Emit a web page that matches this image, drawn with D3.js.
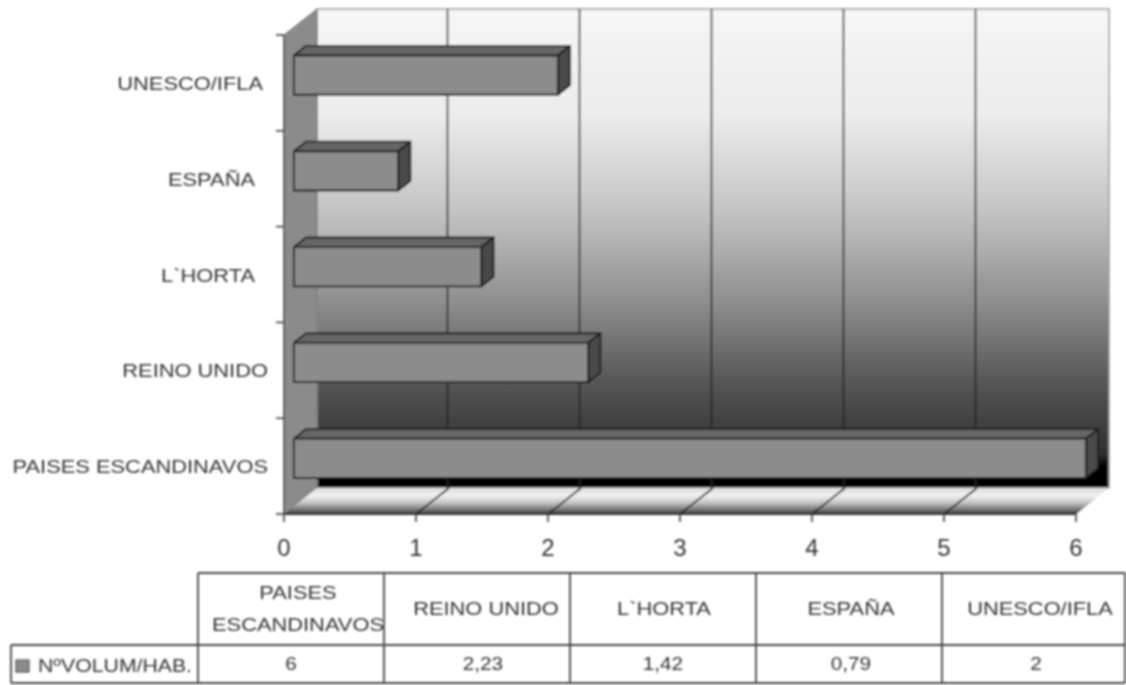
<!DOCTYPE html>
<html><head><meta charset="utf-8">
<script src="https://cdnjs.cloudflare.com/ajax/libs/d3/7.8.5/d3.min.js"></script>
<style>html,body{margin:0;padding:0;background:#fff}svg{display:block}text{font-family:"Liberation Sans",Arial,sans-serif;fill:#333}</style>
</head><body><svg id="c" width="1126" height="685"></svg>
<script>
const categories=["PAISES ESCANDINAVOS","REINO UNIDO","L`HORTA","ESPAÑA","UNESCO/IFLA"];
const values=[6,2.23,1.42,0.79,2];
const seriesName="NºVOLUM/HAB.";
const xTicks=[0,1,2,3,4,5,6];
const valueLabels=["6","2,23","1,42","0,79","2"];
const tableHeaders=[["PAISES","ESCANDINAVOS"],["REINO UNIDO"],["L`HORTA"],["ESPAÑA"],["UNESCO/IFLA"]];
const labelInset=[0,0,13,13,5];
const headerShift=[7,9,1,2,5];
const valueShift=[0,6,0,2,1];

const svg=d3.select("#c");
const x=d3.scaleLinear().domain([0,6]).range([284,1076]);
const y=d3.scaleBand().domain(categories).range([514,35]);
const depth={x:33,y:-26};
const yTop=y.range()[1],yBot=y.range()[0];
const defs=svg.append("defs");
const f=defs.append("filter").attr("id","soft").attr("x","-2%").attr("y","-2%").attr("width","104%").attr("height","104%");
f.append("feGaussianBlur").attr("stdDeviation",0.8);
function grad(id,stops){const g=defs.append("linearGradient").attr("id",id).attr("x1",0).attr("y1",0).attr("x2",0).attr("y2",1);
 stops.forEach(s=>g.append("stop").attr("offset",s[0]).attr("stop-color",s[1]));}
grad("wall",[[0,"#f6f6f6"],[0.22,"#ececec"],[0.42,"#c4c4c4"],[0.6,"#929292"],[0.78,"#565656"],[0.93,"#303030"],[0.955,"#000"],[1,"#000"]]);
grad("floor",[[0,"#dcdcdc"],[0.3,"#f0f0f0"],[0.55,"#c8c8c8"],[0.85,"#707070"],[1,"#3a3a3a"]]);
const g=svg.append("g").attr("filter","url(#soft)");
const P=a=>a.map(p=>p.join(",")).join(" ");
const dep=(px,py,t)=>[px+depth.x*t,py+depth.y*t];
const stretch=(sel,k)=>sel.each(function(){const w=this.getComputedTextLength();d3.select(this).attr("textLength",w*k).attr("lengthAdjust","spacingAndGlyphs");});

g.append("polygon").attr("points",P([dep(x(0),yTop,1),dep(x(6),yTop,1),dep(x(6),yBot,1),dep(x(0),yBot,1)])).attr("fill","url(#wall)").attr("stroke","#999").attr("stroke-width",1.5);
g.append("polygon").attr("points",P([[x(0),yTop],dep(x(0),yTop,1),dep(x(0),yBot,1),[x(0),yBot]])).attr("fill","#8b8b8b").attr("stroke","#777");
g.append("polygon").attr("points",P([[x(0),yBot],dep(x(0),yBot,1),dep(x(6),yBot,1),[x(6),yBot]])).attr("fill","url(#floor)");

g.selectAll(".gw").data(xTicks.slice(1,-1)).join("line").attr("x1",d=>x(d)+depth.x-1.5).attr("x2",d=>x(d)+depth.x-1.5).attr("y1",yTop+depth.y).attr("y2",yBot+depth.y).attr("stroke","#222").attr("stroke-width",1.6);
g.selectAll(".gf").data(xTicks.slice(1,-1)).join("line").attr("x1",d=>x(d)).attr("y1",yBot).attr("x2",d=>x(d)+depth.x).attr("y2",yBot+depth.y).attr("stroke","#222").attr("stroke-width",1.6);

g.append("line").attr("x1",x(0)).attr("x2",x(6)).attr("y1",yBot).attr("y2",yBot).attr("stroke","#333").attr("stroke-width",1.8);
g.append("line").attr("x1",x(0)).attr("x2",x(0)).attr("y1",yTop).attr("y2",yBot).attr("stroke","#555").attr("stroke-width",1.6);
g.selectAll(".tx").data(xTicks).join("line").attr("x1",d=>x(d)).attr("x2",d=>x(d)).attr("y1",yBot).attr("y2",yBot+8).attr("stroke","#333").attr("stroke-width",1.5);
const bandEdges=[...categories.map(c=>y(c)),yBot];
g.selectAll(".ty").data(bandEdges).join("line").attr("x1",x(0)-8).attr("x2",x(0)).attr("y1",d=>d).attr("y2",d=>d).attr("stroke","#333").attr("stroke-width",1.5);
g.selectAll(".tl").data(xTicks).join("text").attr("x",d=>x(d)).attr("y",556).attr("text-anchor","middle").attr("font-size",24).text(d=>d);

const t0=0.3,t1=0.67,barH=y.bandwidth()*0.41;
const bars=g.selectAll(".bar").data(categories.map((c,i)=>({c,v:values[i]}))).join("g");
bars.each(function(d){
 const s=d3.select(this);
 const cy=y(d.c)+y.bandwidth()/2, top=cy-barH/2, bot=cy+barH/2;
 const a=dep(x(0),top,t0),b=dep(x(d.v),top,t0),c=dep(x(d.v),bot,t0),e=dep(x(0),bot,t0);
 const a2=dep(x(0),top,t1),b2=dep(x(d.v),top,t1),c2=dep(x(d.v),bot,t1);
 const st={stroke:"#1c1c1c","stroke-width":1.9,"stroke-linejoin":"round"};
 const poly=(pts,fill)=>{const q=s.append("polygon").attr("points",P(pts)).attr("fill",fill);Object.entries(st).forEach(([k,v])=>q.attr(k,v));};
 poly([a,a2,b2,b],"#666666");
 poly([b,b2,c2,c],"#4a4a4a");
 poly([a,b,c,e],"#8c8c8c");
});

stretch(g.selectAll(".cl").data(categories).join("text").attr("x",(d,i)=>268-labelInset[i]).attr("y",d=>y(d)+y.bandwidth()/2+7).attr("text-anchor","end").attr("font-size",19).text(d=>d),1.15);

const colX=d3.scaleBand().domain(categories).range([198,1128]);
const rows={top:573,mid:645,bot:683},legendLeft=11;
const border={stroke:"#444","stroke-width":1.8};
const ln=(x1,y1,x2,y2)=>{const q=g.append("line").attr("x1",x1).attr("y1",y1).attr("x2",x2).attr("y2",y2);Object.entries(border).forEach(([k,v])=>q.attr(k,v));};
ln(colX.range()[0],rows.top,1125,rows.top);
ln(legendLeft,rows.mid,1125,rows.mid);
ln(legendLeft,rows.bot,1125,rows.bot);
ln(legendLeft,rows.mid,legendLeft,rows.bot);
categories.forEach(c=>ln(colX(c),rows.top,colX(c),rows.bot));
ln(1125,rows.top,1125,rows.bot);
categories.forEach((c,i)=>{
 const cx=colX(c)+colX.bandwidth()/2, L=tableHeaders[i];
 L.forEach((t,j)=>stretch(g.append("text").attr("x",cx+headerShift[i]).attr("y",(rows.top+rows.mid)/2+6+(j-(L.length-1)/2)*32).attr("text-anchor","middle").attr("font-size",19).text(t),1.15));
 stretch(g.append("text").attr("x",cx+valueShift[i]).attr("y",(rows.mid+rows.bot)/2+6).attr("text-anchor","middle").attr("font-size",18).text(valueLabels[i]),1.15);
});
g.append("rect").attr("x",16).attr("y",660).attr("width",13).attr("height",12).attr("fill","#8c8c8c").attr("stroke","#333");
g.append("text").attr("x",38).attr("y",672).attr("font-size",19).attr("textLength",154).attr("lengthAdjust","spacingAndGlyphs").text(seriesName);
</script></body></html>
